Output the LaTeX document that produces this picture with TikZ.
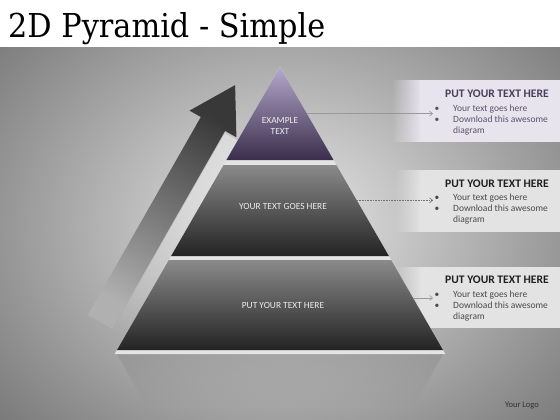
\documentclass[tikz,border=0pt]{standalone}
\usepackage{fontspec}
\usepackage{graphicx}
\setmainfont{Carlito}
\newfontfamily\titlefont{DejaVu Serif}
\usetikzlibrary{fadings,arrows.meta,calc}
\definecolor{bglight}{HTML}{E8E8E8}
\definecolor{bgdark}{HTML}{6E6E6E}
\definecolor{purpleTop}{HTML}{B4A8CC}
\definecolor{purpleMid}{HTML}{6B5B84}
\definecolor{purpleBot}{HTML}{3B2E4C}
\definecolor{grayTop}{HTML}{8A8A8A}
\definecolor{grayMid}{HTML}{404040}
\definecolor{grayBot}{HTML}{232323}
\definecolor{rimc}{HTML}{E4E4E4}
\definecolor{arrowHead}{HTML}{383838}
\definecolor{arrowMid}{HTML}{626262}
\definecolor{arrowTail}{HTML}{B0B0B0}
\definecolor{bandA}{HTML}{E8E4EE}
\definecolor{bandB}{HTML}{E3E3E3}
\definecolor{headA}{HTML}{4A3E5C}
\definecolor{headB}{HTML}{1E1E1E}
\definecolor{bodyA}{HTML}{5B526A}
\definecolor{bodyB}{HTML}{4A4A4A}
\begin{document}
\begin{tikzpicture}[x=1pt,y=-1pt,
  pyrtext/.style={text=white!92!black, font=\fontsize{9.4}{11}\selectfont, align=center, inner sep=0},
  bandhead/.style={anchor=west, inner sep=0, font=\fontsize{11.6}{12}\selectfont\bfseries},
  bandline/.style={anchor=base west, inner sep=0, font=\fontsize{9.5}{11}\selectfont},
  conn/.style={line width=0.6pt, -{Straight Barb[length=3pt,width=5pt]}},
]
\useasboundingbox (0,0) rectangle (560,420);
\fill[white] (0,0) rectangle (560,420);
% background panel
\begin{scope}
  \clip (0,48) rectangle (560,420);
  \shade[inner color=bglight, outer color=bgdark] (285,225) ellipse (420 and 330);
\end{scope}
% title
\node[anchor=base west, inner sep=0] (title) at (8,37.5)
  {\resizebox{317pt}{25pt}{\titlefont 2D Pyramid - Simple}};

% arrow
\begin{scope}[shift={(100,322)}, rotate=60.3]
  \coordinate (at1) at (0,14);
  \coordinate (at2) at (0,-14);
  \coordinate (as1) at (228,14);
  \coordinate (as2) at (228,-14);
  \coordinate (ah1) at (228,27);
  \coordinate (ah2) at (228,-27);
  \coordinate (atip) at (272.7,0);
  \coordinate (gl1) at (0,15);
  \coordinate (gl2) at (226,15);
  \coordinate (gl3) at (226,33);
  \coordinate (gl4) at (0,33);
\end{scope}
\fill[white, fill opacity=0.4, path fading=south]
  (gl1) -- (gl2) -- (gl3) -- (gl4) -- cycle;
\shade[top color=arrowHead, middle color=arrowMid, bottom color=arrowTail, shading angle=-30]
  (at1) -- (as1) -- (ah1) -- (atip) -- (ah2) -- (as2) -- (at2) -- cycle;

% text bands
\fill[bandA] (420,80) rectangle (560,142);
\fill[bandA, path fading=west] (392,80) rectangle (421,142);
\fill[bandB] (420,170) rectangle (560,232);
\fill[bandB, path fading=west] (395,170) rectangle (421,232);
\fill[bandB] (420,267) rectangle (560,328);
\fill[bandB, path fading=west] (395,267) rectangle (421,328);

% reflection
\fill[black!50, path fading=south, fill opacity=0.35] (117,354) -- (443,354) -- (414,405) -- (146,405) -- cycle;

% pyramid rim
\fill[rimc] (280,67) -- (445.3,354) -- (114.7,354) -- cycle;
% levels
\shade[top color=purpleTop, middle color=purpleMid, bottom color=purpleBot]
  (280,67) -- (333.6,160) -- (226.4,160) -- cycle;
\shade[top color=grayTop, middle color=grayMid, bottom color=grayBot]
  (223.6,165) -- (336.4,165) -- (388.9,256) -- (171.1,256) -- cycle;
\shade[top color=grayTop, middle color=grayMid, bottom color=grayBot]
  (168.8,260) -- (391.2,260) -- (443,350) -- (117,350) -- cycle;

\node[pyrtext] (lvl1) at (280,125.5) {EXAMPLE\\TEXT};
\node[pyrtext] (lvl2) at (283,206.7) {YOUR TEXT GOES HERE};
\node[pyrtext] (lvl3) at (283,305) {PUT YOUR TEXT HERE};

% band texts
\node[bandhead, text=headA] (h1) at (445,94) {PUT YOUR TEXT HERE};
\node[bandline, text=bodyA] (b1a) at (453,111.5) {Your text goes here};
\node[bandline, text=bodyA] (b1b) at (453,122.5) {Download this awesome};
\node[bandline, text=bodyA] (b1c) at (453,133.5) {diagram};
\node[bandline, text=bodyA, anchor=base] (d1a) at (437,111.5) {\textbullet};
\node[bandline, text=bodyA, anchor=base] (d1b) at (437,122.5) {\textbullet};

\node[bandhead, text=headB] (h2) at (445,183.3) {PUT YOUR TEXT HERE};
\node[bandline, text=bodyB] (b2a) at (453,200.3) {Your text goes here};
\node[bandline, text=bodyB] (b2b) at (453,211.3) {Download this awesome};
\node[bandline, text=bodyB] (b2c) at (453,222.3) {diagram};
\node[bandline, text=bodyB, anchor=base] (d2a) at (437,200.3) {\textbullet};
\node[bandline, text=bodyB, anchor=base] (d2b) at (437,211.3) {\textbullet};

\node[bandhead, text=headB] (h3) at (445,280) {PUT YOUR TEXT HERE};
\node[bandline, text=bodyB] (b3a) at (453,297.3) {Your text goes here};
\node[bandline, text=bodyB] (b3b) at (453,308.3) {Download this awesome};
\node[bandline, text=bodyB] (b3c) at (453,319.3) {diagram};
\node[bandline, text=bodyB, anchor=base] (d3a) at (437,297.3) {\textbullet};
\node[bandline, text=bodyB, anchor=base] (d3b) at (437,308.3) {\textbullet};

% connectors
\coordinate (e1) at (307,113.7);
\coordinate (t1) at (433,113.7);
\coordinate (e2) at (357,200.3);
\coordinate (t2) at (433,200.3);
\coordinate (e3) at (413,298);
\coordinate (t3) at (433,298);
\draw[conn, color=black!40] (e1) -- (t1);
\draw[conn, color=black!55, densely dotted] (e2) -- (t2);
\draw[conn, color=black!40] (e3) -- (t3);

% logo
\node[inner sep=0, text=black!80, font=\fontsize{8.5}{10}\selectfont] (logo) at (522,405.5) {Your Logo};
\end{tikzpicture}
\end{document}
